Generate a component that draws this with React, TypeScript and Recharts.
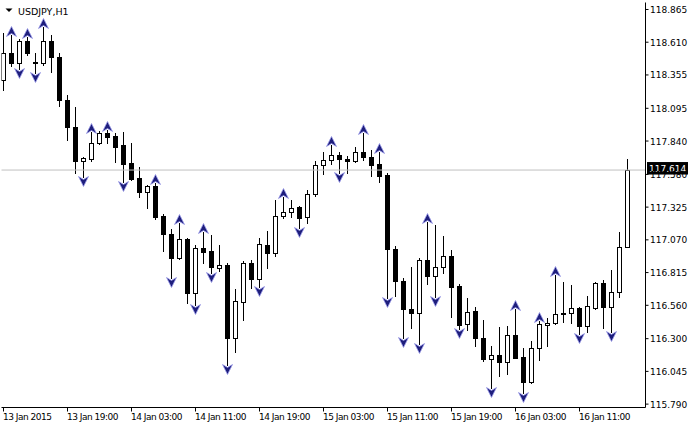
import React from 'react';
import { ComposedChart, Bar, XAxis, YAxis, ReferenceLine } from 'recharts';

const symbolLabel = 'USDJPY,H1';
const timeLabels = ['13 Jan 2015', '13 Jan 19:00', '14 Jan 03:00', '14 Jan 11:00', '14 Jan 19:00', '15 Jan 03:00', '15 Jan 11:00', '15 Jan 19:00', '16 Jan 03:00', '16 Jan 11:00'];
const labelBars = [0, 8, 16, 24, 32, 40, 48, 56, 64, 72];

const opens = [118.315, 118.528, 118.446, 118.617, 118.456, 118.446, 118.622, 118.492, 118.159, 117.951,
  117.686, 117.697, 117.827, 117.905, 117.879, 117.809, 117.671, 117.554, 117.445, 117.489,
  117.255, 117.113, 116.926, 117.074, 116.658, 117.004, 116.983, 116.852, 116.873, 116.307,
  116.587, 116.887, 116.762, 117.029, 116.964, 117.253, 117.284, 117.323, 117.245, 117.425,
  117.651, 117.692, 117.729, 117.700, 117.682, 117.752, 117.713, 117.661, 117.575, 116.996,
  116.751, 116.528, 116.497, 116.912, 116.788, 116.855, 116.944, 116.710, 116.411, 116.515,
  116.307, 116.139, 116.172, 116.120, 116.328, 116.154, 115.964, 116.224, 116.404, 116.419,
  116.489, 116.502, 116.536, 116.400, 116.541, 116.731, 116.549, 116.661, 117.016];
const highs = [118.682, 118.666, 118.633, 118.653, 118.524, 118.731, 118.666, 118.524, 118.198, 118.105,
  117.715, 117.912, 117.922, 117.926, 117.902, 117.912, 117.822, 117.640, 117.497, 117.515,
  117.269, 117.152, 117.203, 117.084, 117.033, 117.131, 117.107, 117.029, 116.887, 116.686,
  116.907, 116.912, 117.081, 117.138, 117.380, 117.401, 117.380, 117.333, 117.458, 117.682,
  117.752, 117.807, 117.752, 117.723, 117.791, 117.905, 117.770, 117.757, 117.593, 117.022,
  116.770, 116.858, 116.926, 117.211, 117.185, 117.100, 116.990, 116.725, 116.614, 116.544,
  116.445, 116.242, 116.393, 116.398, 116.531, 116.224, 116.281, 116.439, 116.458, 116.796,
  116.739, 116.718, 116.549, 116.634, 116.741, 116.757, 116.835, 117.128, 117.697];
const lows = [118.237, 118.425, 118.401, 118.510, 118.370, 118.432, 118.380, 118.113, 117.848, 117.588,
  117.562, 117.684, 117.817, 117.822, 117.679, 117.523, 117.536, 117.401, 117.315, 117.234,
  116.985, 116.770, 116.918, 116.580, 116.562, 116.887, 116.809, 116.829, 116.094, 116.198,
  116.445, 116.692, 116.704, 116.852, 116.946, 117.237, 117.250, 117.160, 117.198, 117.415,
  117.581, 117.658, 117.588, 117.588, 117.676, 117.692, 117.569, 117.523, 116.614, 116.634,
  116.302, 116.380, 116.258, 116.723, 116.626, 116.809, 116.466, 116.372, 116.367, 116.242,
  116.128, 115.913, 116.011, 116.022, 116.146, 115.876, 115.958, 116.133, 116.245, 116.418,
  116.432, 116.419, 116.333, 116.354, 116.531, 116.385, 116.354, 116.622, 117.016];
const closes = [118.524, 118.446, 118.617, 118.524, 118.446, 118.622, 118.492, 118.159, 117.951, 117.686,
  117.705, 117.827, 117.905, 117.873, 117.796, 117.658, 117.544, 117.445, 117.489, 117.245,
  117.113, 116.926, 117.074, 116.658, 117.004, 116.977, 116.860, 116.873, 116.307, 116.593,
  116.887, 116.762, 117.037, 116.964, 117.255, 117.284, 117.320, 117.242, 117.425, 117.651,
  117.692, 117.729, 117.697, 117.682, 117.752, 117.713, 117.655, 117.569, 116.996, 116.751,
  116.528, 116.497, 116.912, 116.790, 116.855, 116.944, 116.704, 116.406, 116.507, 116.307,
  116.141, 116.172, 116.120, 116.328, 116.151, 115.964, 116.224, 116.411, 116.422, 116.492,
  116.497, 116.536, 116.400, 116.554, 116.736, 116.549, 116.661, 117.016, 117.614];

const fractalUpBars = [1, 3, 5, 11, 13, 19, 22, 25, 35, 41, 45, 47, 53, 64, 67, 69];
const fractalDownBars = [2, 4, 10, 15, 21, 24, 26, 28, 32, 37, 42, 48, 50, 52, 54, 57, 61, 65, 72, 76];

const priceTicks = [118.865, 118.61, 118.355, 118.095, 117.84, 117.58, 117.325, 117.07, 116.815, 116.56, 116.3, 116.045, 115.79];
const currentPrice = 117.614;

const candles = opens.map((o, i) => ({
  i,
  o,
  h: highs[i],
  l: lows[i],
  c: closes[i],
  range: [lows[i], highs[i]],
  up: fractalUpBars.includes(i),
  down: fractalDownBars.includes(i),
}));

const W = 689;
const H = 425;
const FONT = "'DejaVu Sans', Verdana, sans-serif";
const X_DOMAIN: [number, number] = [-0.25, 80.25];
const Y_DOMAIN: [number, number] = [115.7636, 118.9195];

const ARROW_FILL = '#1f1f7c';
const ARROW_EDGE = '#9a9ae8';

const Candle = (props: any) => {
  const { x, y, width, height, payload } = props;
  if (x == null || y == null || !payload) return null;
  const cx = Math.round(x + width / 2 - 0.5) + 0.5;
  const yTop = Math.min(y, y + height);
  const span = Math.abs(height);
  const { o, h, l, c, up, down } = payload;
  const py = (p: number) => yTop + ((h - p) / (h - l)) * span;
  const yH = Math.round(py(h));
  const yL = Math.round(py(l));
  const yO = py(o);
  const yC = py(c);
  const bTop = Math.round(Math.min(yO, yC)) + 0.5;
  const bBot = Math.round(Math.max(yO, yC)) + 0.5;
  const bull = c >= o;
  return (
    <g>
      <line x1={cx} x2={cx} y1={yH} y2={yL + 1} stroke="#000" strokeWidth={1} />
      {bBot - bTop < 1 ? (
        <line x1={cx - 2.5} x2={cx + 2.5} y1={bTop} y2={bTop} stroke="#000" strokeWidth={1} />
      ) : (
        <rect x={cx - 2} y={bTop} width={4} height={bBot - bTop} fill={bull ? '#fff' : '#000'} stroke="#000" strokeWidth={1} />
      )}
      {up && (
        <polygon
          points={`${cx},${yH - 8.5} ${cx + 5},${yH + 1.5} ${cx},${yH - 1.5} ${cx - 5},${yH + 1.5}`}
          fill={ARROW_FILL}
          stroke={ARROW_EDGE}
          strokeWidth={0.8}
        />
      )}
      {down && (
        <polygon
          points={`${cx},${yL + 9.5} ${cx + 5},${yL - 0.5} ${cx},${yL + 2.5} ${cx - 5},${yL - 0.5}`}
          fill={ARROW_FILL}
          stroke={ARROW_EDGE}
          strokeWidth={0.8}
        />
      )}
    </g>
  );
};

const PriceTick = (props: any) => {
  const { x, y, payload } = props;
  const v = Number(payload.value);
  return (
    <text x={x} y={y + 3.5} fill="#000" fontSize={9} fontFamily={FONT}>{v.toFixed(3)}</text>
  );
};

const CurrentPriceLabel = (props: any) => {
  const vb = props.viewBox || {};
  const right = (vb.x ?? 0) + (vb.width ?? 0);
  const y = vb.y ?? 0;
  return (
    <g>
      <rect x={right + 1.5} y={y - 8} width={41} height={12.5} fill="#000" />
      <text x={right + 3.5} y={y + 1.5} fill="#fff" fontSize={9} fontFamily={FONT}>{currentPrice.toFixed(3)}</text>
    </g>
  );
};

const TimeTick = (props: any) => {
  const { x, payload } = props;
  const idx = labelBars.indexOf(Number(payload.value));
  if (idx < 0) return null;
  return (
    <text x={x - 0.5} y={420} fill="#000" fontSize={9} letterSpacing={-0.5} fontFamily={FONT}>{timeLabels[idx]}</text>
  );
};

export default function App() {
  return (
    <div style={{ position: 'absolute', left: 0, top: 0, width: W, height: H, background: '#fff' }}>
      <ComposedChart
        width={W}
        height={H}
        data={candles}
        margin={{ top: 2.5, left: 1.5, right: 0, bottom: 0 }}
      >
        <XAxis
          dataKey="i"
          type="number"
          domain={X_DOMAIN}
          allowDataOverflow
          ticks={labelBars}
          interval={0}
          tick={<TimeTick />}
          tickSize={4}
          tickLine={{ stroke: '#000' }}
          axisLine={{ stroke: '#000' }}
          height={17.5}
        />
        <XAxis
          xAxisId="top"
          orientation="top"
          type="number"
          domain={X_DOMAIN}
          allowDataOverflow
          tick={false}
          tickLine={false}
          axisLine={{ stroke: '#000' }}
          height={0}
        />
        <YAxis
          yAxisId="left"
          orientation="left"
          type="number"
          domain={Y_DOMAIN}
          allowDataOverflow
          tick={false}
          tickLine={false}
          axisLine={{ stroke: '#000' }}
          width={0}
        />
        <YAxis
          orientation="right"
          type="number"
          domain={Y_DOMAIN}
          allowDataOverflow
          ticks={priceTicks}
          interval={0}
          tick={<PriceTick />}
          tickSize={3}
          tickMargin={1.5}
          tickLine={{ stroke: '#000' }}
          axisLine={{ stroke: '#000' }}
          width={43.5}
        />
        <ReferenceLine y={currentPrice} stroke="#c0c0c0" strokeWidth={1} />
        <Bar dataKey="range" barSize={5} shape={<Candle />} isAnimationActive={false} />
        <ReferenceLine y={currentPrice} stroke="none" strokeWidth={0} label={<CurrentPriceLabel />} />
      </ComposedChart>
      <svg width={90} height={20} style={{ position: 'absolute', left: 0, top: 0 }}>
        <polygon points="5.5,8.5 12.5,8.5 9,12" fill="#000" />
        <text x={18} y={14.5} fontSize={9.5} fontFamily={FONT} fill="#000">{symbolLabel}</text>
      </svg>
    </div>
  );
}
